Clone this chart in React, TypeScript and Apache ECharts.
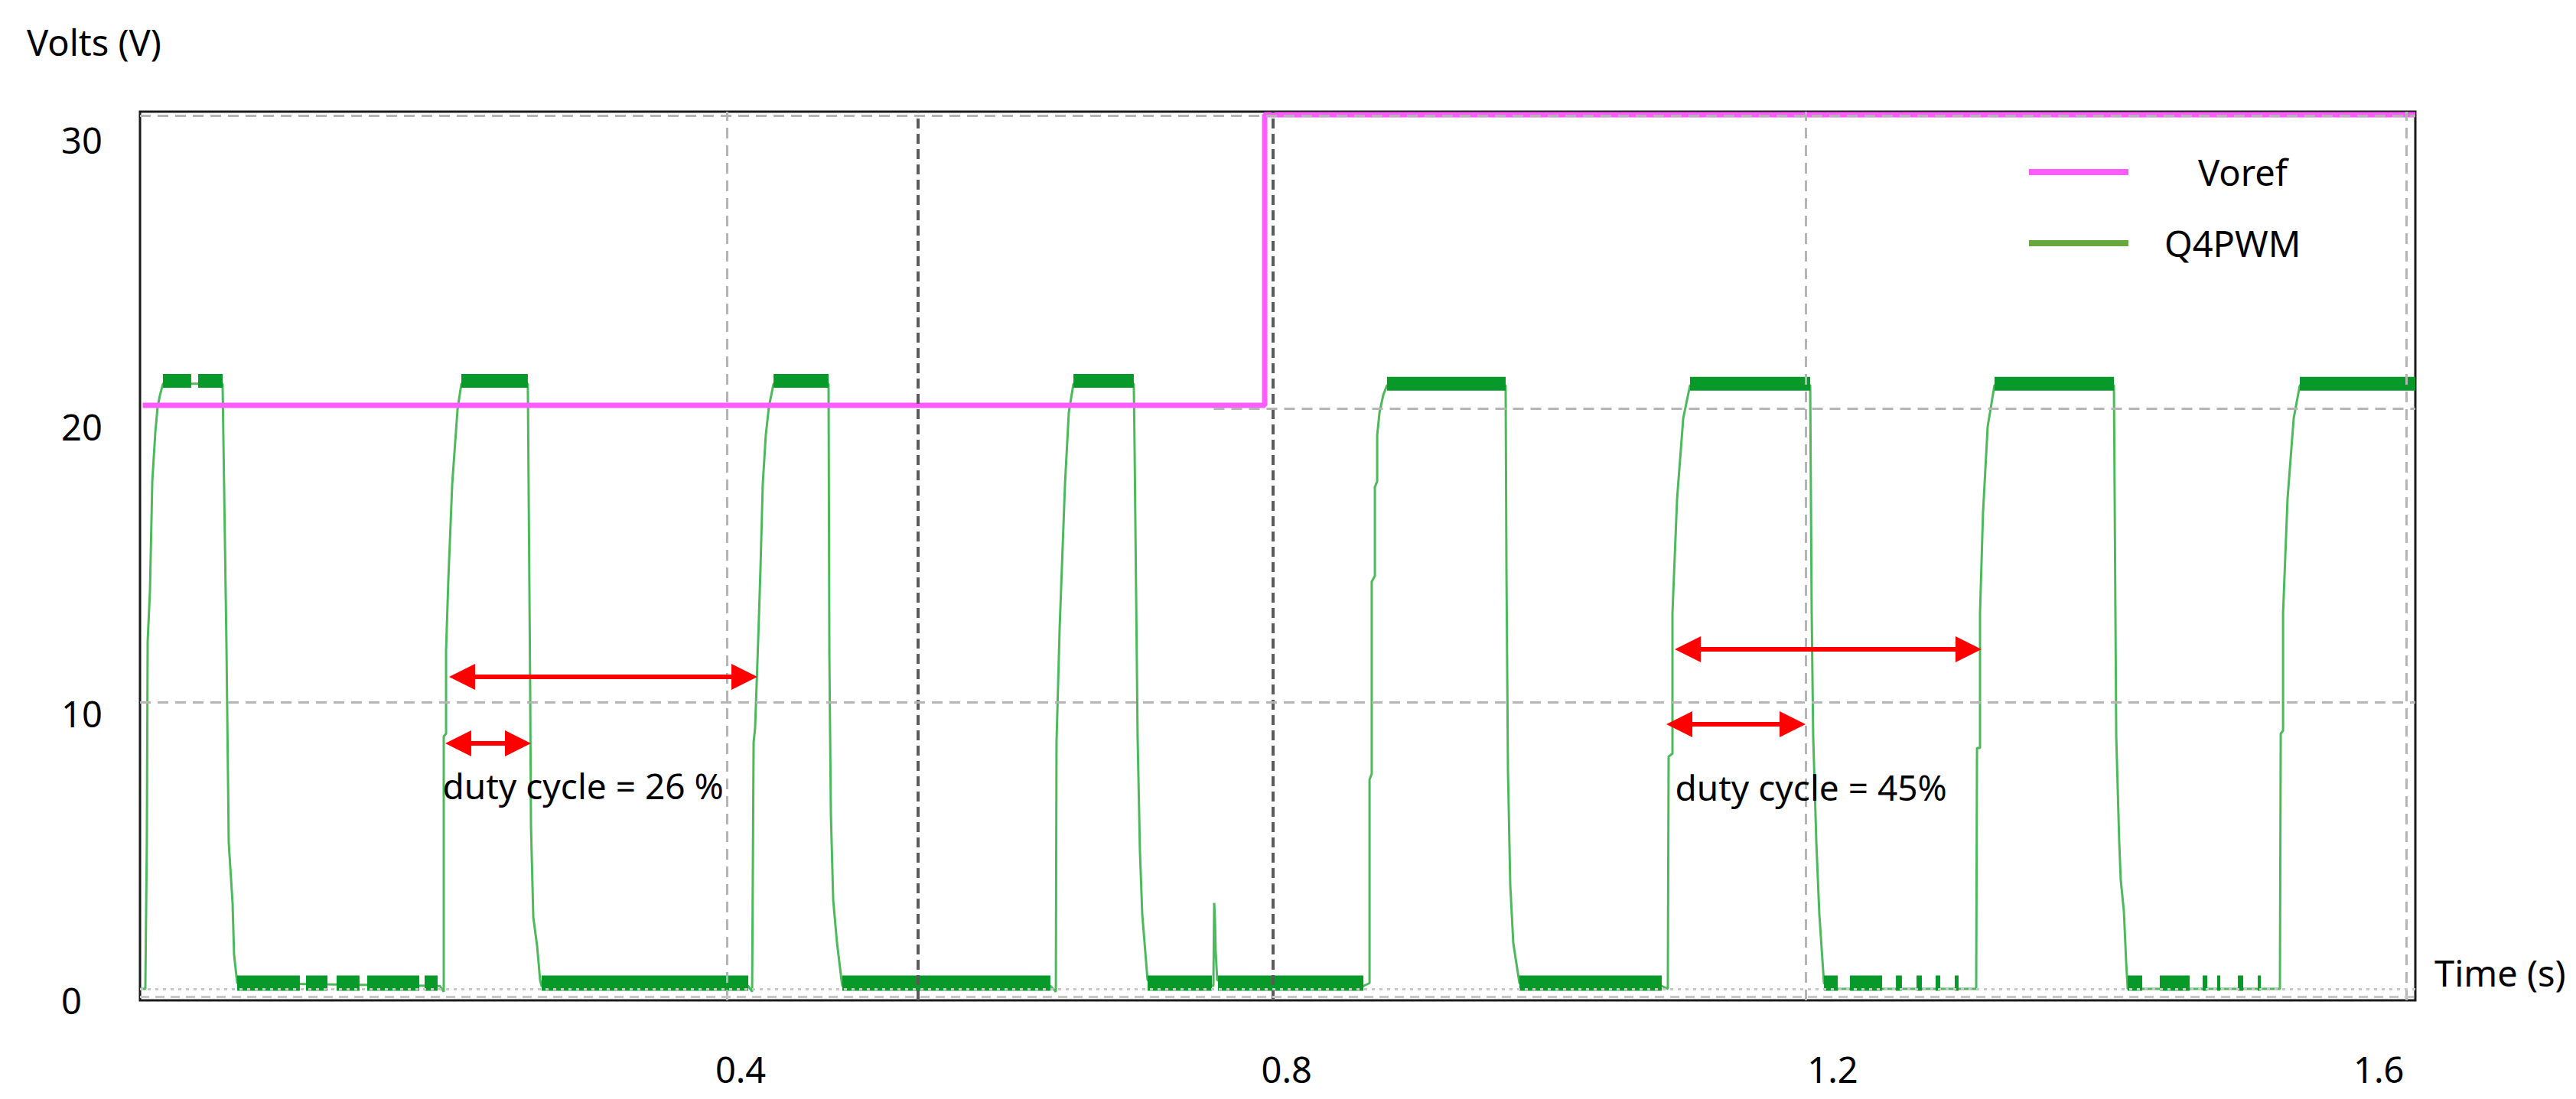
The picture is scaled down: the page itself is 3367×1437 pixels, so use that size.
import React, { useEffect, useRef } from 'react';
import * as echarts from 'echarts';

const FONT = "'Noto Sans', 'Open Sans', sans-serif";

// ---- axes (time in s, voltage in V) ----
const X_MIN = -0.04;
const X_MAX = 1.6268;
const Y_MIN = 0;
const Y_MAX = 30.99;
const xTickValues = [0.4, 0.8, 1.2, 1.6];
const yTickValues = [0, 10, 20, 30];
const yAxisTitle = 'Volts (V)';
const xAxisTitle = 'Time (s)';

// ---- Voref step reference ----
const vorefPoints = [
  [-0.038, 20.75],
  [0.7839, 20.75],
  [0.7839, 30.88],
  [1.6268, 30.88],
];

// ---- Q4PWM trace ----
const q4pwmTrace = [
  [-0.04, 0.4], [-0.0361, 0.4], [-0.035, 5.5], [-0.0344, 12.5], [-0.0327, 14.3], [-0.031, 18.1], [-0.0288, 19.8], [-0.0271, 20.7], [-0.0254, 21.1], [-0.0232, 21.5],
  [0.0205, 21.5], [0.0233, 12.5], [0.025, 5.5], [0.0278, 3.4], [0.0289, 1.6], [0.0312, 0.6],
  [0.1797, 0.5], [0.1825, 0.3],
  [0.1825, 9.2], [0.1842, 9.3], [0.1842, 12.2], [0.1859, 14.7], [0.1887, 18.0], [0.1926, 20.6], [0.1954, 21.5],
  [0.2441, 21.5], [0.2458, 11.0], [0.2464, 6.1], [0.2481, 2.9], [0.2509, 1.9], [0.2531, 0.7], [0.2542, 0.5],
  [0.4056, 0.5], [0.4084, 0.3],
  [0.4095, 9.0], [0.4106, 9.5], [0.4128, 12.5], [0.4145, 15.0], [0.4162, 18.0], [0.4184, 19.7], [0.4207, 20.7], [0.4241, 21.5],
  [0.4644, 21.5], [0.465, 12.0], [0.4661, 6.5], [0.4678, 3.5], [0.4706, 2.0], [0.4739, 0.7], [0.4745, 0.5],
  [0.6269, 0.5], [0.6309, 0.3],
  [0.6314, 9.0], [0.6337, 13.0], [0.6376, 18.0], [0.6404, 20.5], [0.6438, 21.5],
  [0.688, 21.5], [0.6886, 19.2], [0.6908, 9.2], [0.6925, 5.2], [0.6942, 3.0], [0.6959, 2.0], [0.6981, 0.7],
  [0.7463, 0.5], [0.7469, 3.4], [0.7474, 2.9], [0.748, 1.7], [0.7491, 0.7],
  [0.8562, 0.5], [0.8607, 0.6],
  [0.8607, 7.7], [0.8623, 7.9], [0.8623, 14.6], [0.8646, 14.8], [0.8646, 17.9], [0.8663, 18.1], [0.8663, 19.7], [0.868, 20.5], [0.8707, 21.1], [0.8735, 21.45],
  [0.9604, 21.45], [0.961, 15.0], [0.9621, 8.0], [0.9638, 4.0], [0.966, 2.0], [0.9705, 0.6],
  [1.0748, 0.5], [1.0792, 0.4],
  [1.0798, 8.5], [1.0826, 8.6], [1.0826, 13.5], [1.086, 17.5], [1.0905, 20.3], [1.0955, 21.45],
  [1.1835, 21.45], [1.1846, 13.5], [1.1857, 9.2], [1.188, 5.5], [1.1902, 3.0], [1.1936, 0.6],
  [1.2037, 0.4], [1.3051, 0.4],
  [1.3057, 8.8], [1.3079, 8.8], [1.3079, 13.5], [1.3101, 17.0], [1.3135, 20.0], [1.3185, 21.45],
  [1.406, 21.45], [1.4071, 13.5], [1.4077, 9.2], [1.4099, 5.5], [1.411, 4.2], [1.4133, 3.1], [1.415, 1.3], [1.4161, 0.4],
  [1.4267, 0.4], [1.5276, 0.4],
  [1.5282, 9.3], [1.5299, 9.4], [1.5299, 13.5], [1.5332, 17.5], [1.5377, 20.3], [1.5422, 21.45],
  [1.6268, 21.45],
];

// noisy "on" plateaus: [start, end, level]
const highBands = [
  [-0.0232, -0.0025, 21.6], [0.0026, 0.0205, 21.6],
  [0.1954, 0.2441, 21.6],
  [0.4241, 0.4644, 21.6],
  [0.6438, 0.688, 21.6],
  [0.8735, 0.9604, 21.5],
  [1.0955, 1.1835, 21.5],
  [1.3185, 1.406, 21.5],
  [1.5422, 1.6268, 21.5],
];

// noisy "off" level: [start, end, level]
const lowBands = [
  [0.0312, 0.0771, 0.6], [0.0816, 0.0973, 0.6], [0.104, 0.1208, 0.6], [0.1264, 0.1646, 0.6], [0.1685, 0.178, 0.6],
  [0.2542, 0.4056, 0.6],
  [0.4745, 0.6269, 0.6],
  [0.6981, 0.7452, 0.6], [0.7497, 0.8562, 0.6],
  [0.9705, 1.0748, 0.6],
  [1.1936, 1.2037, 0.6], [1.2126, 1.2362, 0.6], [1.2463, 1.2507, 0.6], [1.2614, 1.2653, 0.6], [1.2754, 1.2788, 0.6], [1.2894, 1.2922, 0.6],
  [1.4161, 1.4267, 0.6], [1.4396, 1.4615, 0.6], [1.471, 1.4744, 0.6], [1.4816, 1.4839, 0.6], [1.4968, 1.5007, 0.6], [1.5114, 1.5136, 0.6],
];

// scope grid lines
const vGridLight = [0.3882, 1.1756, 1.6195];
const vGridDark = [0.5328, 0.7895];
const hGridFull = [10.4, 30.85];
const hGridPartial = [[0.7466, 1.6268, 20.64]];
const hDotted = [0.4];
const hDashedLow = [0.13];

// duty-cycle annotations: arrows [tipStart, tipEnd, level]
const arrows = [
  [0.1864, 0.4123, 11.28],
  [0.1836, 0.2464, 8.96],
  [1.0843, 1.309, 12.24],
  [1.0781, 1.1801, 9.63],
];
const dutyLabels = [
  { t: 0.1814, v: 7.49, text: 'duty cycle = 26 %' },
  { t: 1.0843, v: 7.44, text: 'duty cycle = 45%' },
];

const GRID = { left: 183, right: 210, top: 146, bottom: 129 };
const CHART_W = 3367;
const CHART_H = 1437;
const ARROW_HEAD = 34;

function bandsToData(bands: number[][]) {
  const out: any[] = [];
  bands.forEach(([a, b, v]) => {
    out.push([a, v]);
    out.push([b, v]);
    out.push([b, null]);
  });
  return out;
}

export default function App() {
  const ref = useRef<HTMLDivElement>(null);

  useEffect(() => {
    if (!ref.current) return;
    const chart = echarts.init(ref.current, null, { renderer: 'svg' });
    const plotW = CHART_W - GRID.left - GRID.right;
    const inset = (ARROW_HEAD / 2) * (X_MAX - X_MIN) / plotW;

    const lightDash = { color: '#b5b5b5', type: [14, 9], width: 3 };
    const darkDash = { color: '#5a5a5a', type: [13, 7], width: 4 };

    const gridLines: any[] = [
      ...vGridLight.map((t) => ({ xAxis: t, lineStyle: lightDash })),
      ...vGridDark.map((t) => ({ xAxis: t, lineStyle: darkDash })),
      ...hGridFull.map((v) => ({ yAxis: v, lineStyle: lightDash })),
      ...hGridPartial.map(([a, b, v]) => [
        { coord: [a, v], lineStyle: lightDash },
        { coord: [b, v] },
      ]),
      ...hDotted.map((v) => ({ yAxis: v, lineStyle: { color: '#c8c8c8', type: [4, 6], width: 3 } })),
      ...hDashedLow.map((v) => ({ yAxis: v, lineStyle: { color: '#c8c8c8', type: [12, 8], width: 3 } })),
    ];

    const arrowLines = arrows.map(([a, b, v]) => [
      { coord: [a + inset, v] },
      { coord: [b - inset, v] },
    ]);

    const option: any = {
      animation: false,
      backgroundColor: '#ffffff',
      textStyle: { fontFamily: FONT },
      title: {
        text: yAxisTitle,
        left: 35,
        top: 27,
        padding: 0,
        textStyle: { fontFamily: FONT, fontSize: 47, fontWeight: 'normal', color: '#000', lineHeight: 56 },
      },
      grid: {
        ...GRID,
        show: true,
        borderColor: '#1a1a1a',
        borderWidth: 3,
        backgroundColor: 'transparent',
        containLabel: false,
        outerBoundsMode: 'none',
      },
      legend: [
        {
          left: 2652,
          top: 197,
          padding: 0,
          selectedMode: false,
          icon: 'rect',
          itemWidth: 130,
          itemHeight: 8,
          data: [{ name: 'Voref', itemStyle: { color: '#ff5cff' } }],
          textStyle: { fontFamily: FONT, fontSize: 47, color: '#000', lineHeight: 56, padding: [0, 0, 0, 86] },
        },
        {
          left: 2652,
          top: 290,
          padding: 0,
          selectedMode: false,
          icon: 'rect',
          itemWidth: 130,
          itemHeight: 8,
          data: [{ name: 'Q4PWM', itemStyle: { color: '#64a83e' } }],
          textStyle: { fontFamily: FONT, fontSize: 47, color: '#000', lineHeight: 56, padding: [0, 0, 0, 42] },
        },
      ],
      xAxis: {
        type: 'value',
        min: X_MIN,
        max: X_MAX,
        name: xAxisTitle,
        nameLocation: 'end',
        nameGap: 25,
        nameTextStyle: {
          fontFamily: FONT, fontSize: 47, color: '#000', lineHeight: 72,
          align: 'left', verticalAlign: 'bottom',
        },
        axisLine: { show: false },
        axisTick: { show: false },
        splitLine: { show: false },
        axisLabel: {
          customValues: xTickValues,
          fontFamily: FONT, fontSize: 47, color: '#000', lineHeight: 56,
          margin: 62,
          showMinLabel: true, showMaxLabel: true,
        },
      },
      yAxis: {
        type: 'value',
        min: Y_MIN,
        max: Y_MAX,
        axisLine: { show: false },
        axisTick: { show: false },
        splitLine: { show: false },
        axisLabel: {
          customValues: yTickValues,
          fontFamily: FONT, fontSize: 47, color: '#000', lineHeight: 56,
          align: 'left',
          margin: 103,
        },
      },
      series: [
        {
          type: 'line',
          name: 'scope-grid',
          data: [],
          z: 1,
          silent: true,
          markLine: {
            silent: true,
            animation: false,
            symbol: ['none', 'none'],
            label: { show: false },
            data: gridLines,
          },
        },
        {
          type: 'line',
          name: 'Q4PWM',
          data: q4pwmTrace,
          showSymbol: false,
          symbol: 'none',
          silent: true,
          z: 2,
          itemStyle: { color: '#4db85c' },
          lineStyle: { color: '#4db85c', width: 3 },
        },
        {
          type: 'line',
          name: 'Q4PWM',
          data: bandsToData(highBands),
          showSymbol: false,
          symbol: 'none',
          connectNulls: false,
          silent: true,
          z: 2,
          itemStyle: { color: '#07992a' },
          lineStyle: { color: '#07992a', width: 18, cap: 'butt' },
        },
        {
          type: 'line',
          name: 'Q4PWM',
          data: bandsToData(lowBands),
          showSymbol: false,
          symbol: 'none',
          connectNulls: false,
          silent: true,
          z: 2,
          itemStyle: { color: '#07992a' },
          lineStyle: { color: '#07992a', width: 20, cap: 'butt' },
        },
        {
          type: 'line',
          name: 'Voref',
          data: vorefPoints,
          showSymbol: false,
          symbol: 'none',
          silent: true,
          z: 3,
          itemStyle: { color: '#ff5cff' },
          lineStyle: { color: '#ff5cff', width: 7 },
        },
        {
          type: 'line',
          name: 'annotations',
          data: [],
          z: 5,
          silent: true,
          markLine: {
            silent: true,
            animation: false,
            symbol: ['triangle', 'triangle'],
            symbolSize: ARROW_HEAD,
            label: { show: false },
            lineStyle: { color: '#ff0000', width: 6, type: 'solid' },
            itemStyle: { color: '#ff0000' },
            data: arrowLines,
          },
          markPoint: {
            silent: true,
            animation: false,
            data: dutyLabels.map((d) => ({
              coord: [d.t, d.v],
              symbol: 'rect',
              symbolSize: 1,
              itemStyle: { color: 'rgba(0,0,0,0)' },
              label: {
                show: true,
                position: 'right',
                distance: 0,
                formatter: d.text,
                fontFamily: FONT,
                fontSize: 46,
                color: '#000',
              },
            })),
          },
        },
      ],
    };

    chart.setOption(option);
    return () => chart.dispose();
  }, []);

  return (
    <div
      ref={ref}
      style={{ position: 'fixed', left: 0, top: 0, width: CHART_W, height: CHART_H, background: '#fff' }}
    />
  );
}
